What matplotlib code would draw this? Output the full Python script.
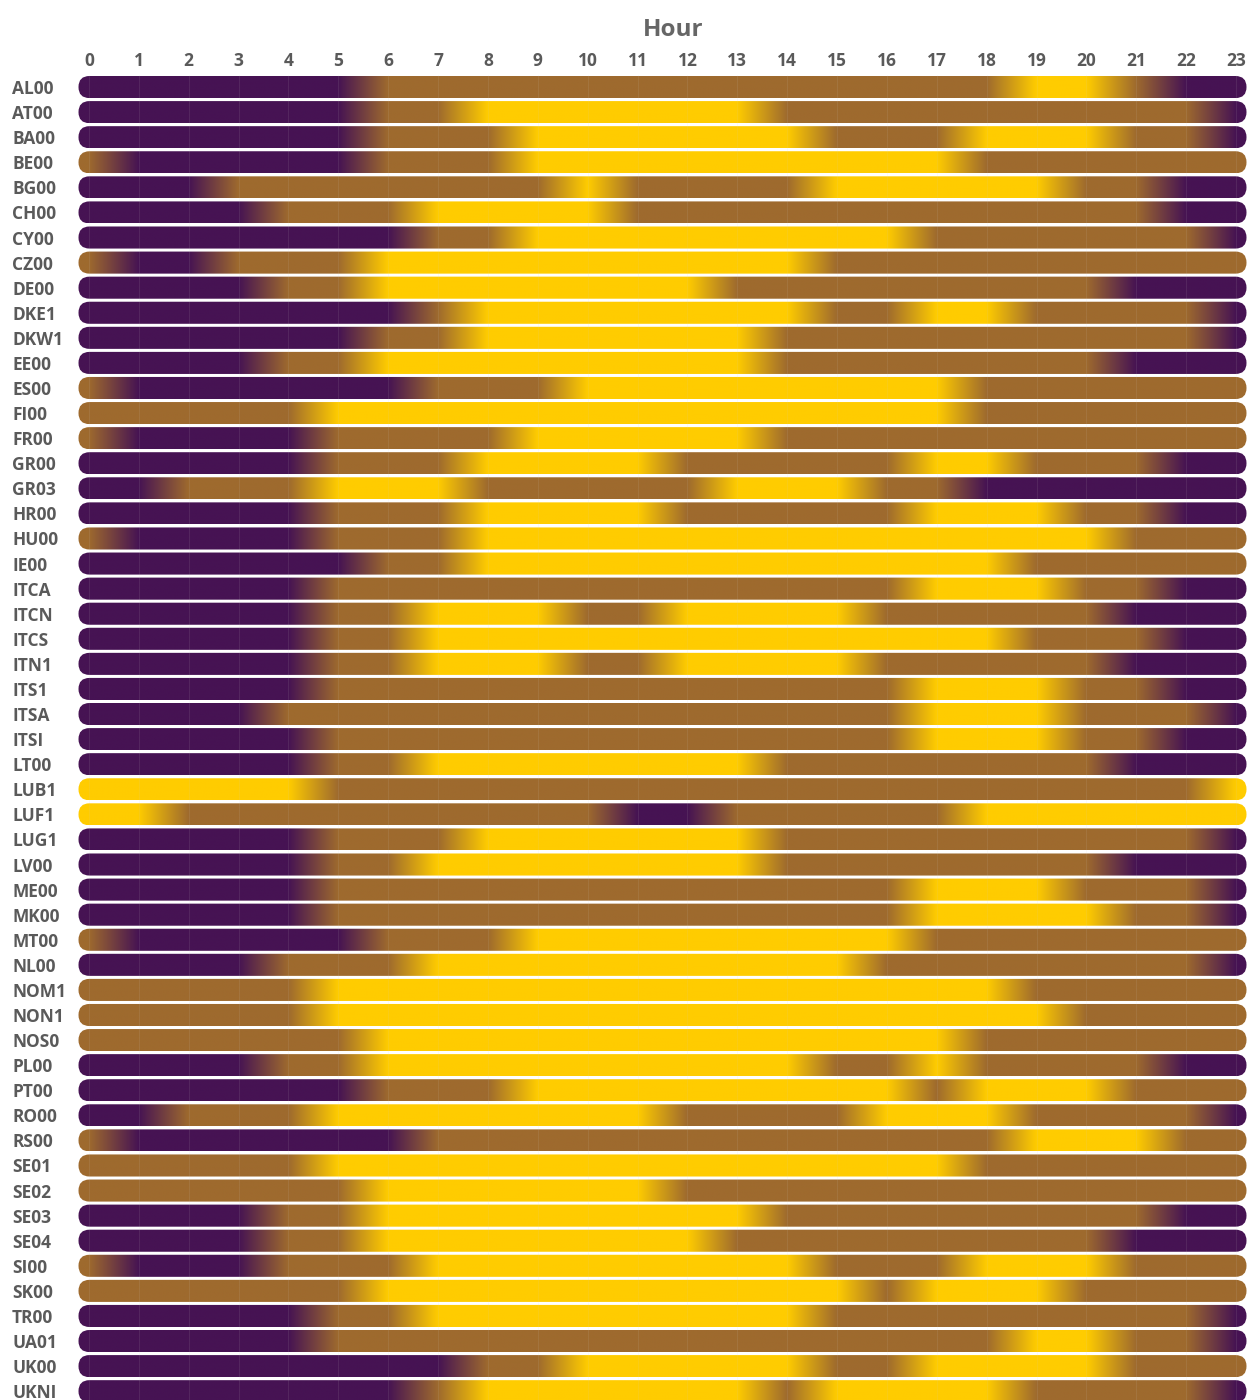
import numpy as np
import matplotlib
matplotlib.use("Agg")
import matplotlib.pyplot as plt
from matplotlib.patches import FancyBboxPatch
from matplotlib.colors import to_rgb

plt.rcParams["font.family"] = ["Open Sans", "DejaVu Sans"]

hours = list(range(24))

zones = ["AL00", "AT00", "BA00", "BE00", "BG00", "CH00", "CY00", "CZ00", "DE00",
         "DKE1", "DKW1", "EE00", "ES00", "FI00", "FR00", "GR00", "GR03", "HR00",
         "HU00", "IE00", "ITCA", "ITCN", "ITCS", "ITN1", "ITS1", "ITSA", "ITSI",
         "LT00", "LUB1", "LUF1", "LUG1", "LV00", "ME00", "MK00", "MT00", "NL00",
         "NOM1", "NON1", "NOS0", "PL00", "PT00", "RO00", "RS00", "SE01", "SE02",
         "SE03", "SE04", "SI00", "SK00", "TR00", "UA01", "UK00", "UKNI"]

# state per hour 0..23 (P = low, B = mid, Y = high); spaces only for reading
states = [
    "PPPPPP BBBBBBBBBBBBB YY B PP",      # AL00
    "PPPPPP BB YYYYYY BBBBBBBBB P",      # AT00
    "PPPPPP BBB YYYYYY BBB YYY BB P",    # BA00
    "B PPPPP BBB YYYYYYYYY BBBBBB",      # BE00
    "PPP BBBBBBB Y BBBB YYYYY BB PP",    # BG00
    "PPPP BBB YYYY BBBBBBBBBBB PP",      # CH00
    "PPPPPPP BB YYYYYYYY BBBBBB P",      # CY00
    "B PP BBB YYYYYYYYY BBBBBBBBB",      # CZ00
    "PPPP BB YYYYYYY BBBBBBBB PPP",      # DE00
    "PPPPPPP B YYYYYYY BB YY BBBB P",    # DKE1
    "PPPPPP BB YYYYYY BBBBBBBBB P",      # DKW1
    "PPPP BB YYYYYYYY BBBBBBB PPP",      # EE00
    "B PPPPPP BBB YYYYYYYY BBBBBB",      # ES00
    "BBBBB YYYYYYYYYYYYY BBBBBB",        # FI00
    "B PPPP BBBB YYYYY BBBBBBBBBB",      # FR00
    "PPPPP BBB YYYY BBBBB YY BBB PP",    # GR00
    "PP BBB YYY BBBBB YYY BB PPPPPP",    # GR03
    "PPPPP BBB YYYY BBBBB YYY BB PP",    # HR00
    "B PPPP BBB YYYYYYYYYYYYY BBB",      # HU00
    "PPPPPP BB YYYYYYYYYYY BBBBB",       # IE00
    "PPPPP BBBBBBBBBBBB YYY BB PP",      # ITCA
    "PPPPP BB YYY BB YYYY BBBBB PPP",    # ITCN
    "PPPPP BB YYYYYYYYYYYY BBB PP",      # ITCS
    "PPPPP BB YYY BB YYYY BBBBB PPP",    # ITN1
    "PPPPP BBBBBBBBBBBB YYY BB PP",      # ITS1
    "PPPP BBBBBBBBBBBBB YYY BBB P",      # ITSA
    "PPPPP BBBBBBBBBBBB YYY BB PP",      # ITSI
    "PPPPP BB YYYYYYY BBBBBBB PPP",      # LT00
    "YYYYY BBBBBBBBBBBBBBBBBB Y",        # LUB1
    "YY BBBBBBBBB PP BBBBB YYYYYY",      # LUF1
    "PPPPP BBB YYYYYY BBBBBBBBB P",      # LUG1
    "PPPPP BB YYYYYYY BBBBBBB PPP",      # LV00
    "PPPPP BBBBBBBBBBBB YYY BBB P",      # ME00
    "PPPPP BBBBBBBBBBBB YYYY BB P",      # MK00
    "B PPPPP BBB YYYYYYYY BBBBBBB",      # MT00
    "PPPP BBB YYYYYYYYY BBBBBBB P",      # NL00
    "BBBBB YYYYYYYYYYYYYY BBBBB",        # NOM1
    "BBBBB YYYYYYYYYYYYYYY BBBB",        # NON1
    "BBBBBB YYYYYYYYYYYY BBBBBB",        # NOS0
    "PPPP BB YYYYYYYYY BB Y BBBB PP",    # PL00
    "PPPPPP BBB YYYYYYYY B YYY BBB",     # PT00
    "PP BBB YYYYYYY BBBB YYY BBBB P",    # RO00
    "B PPPPPP BBBBBBBBBBBB YYY BB",      # RS00
    "BBBBB YYYYYYYYYYYYY BBBBBB",        # SE01
    "BBBBBB YYYYYY BBBBBBBBBBBB",        # SE02
    "PPPP BB YYYYYYYY BBBBBBBB PP",      # SE03
    "PPPP BB YYYYYYY BBBBBBBB PPP",      # SE04
    "B PPP BBB YYYYYYYY BBB YYY BBB",    # SI00
    "BBBBBB YYYYYYYYYY B YYY BBBB",      # SK00
    "PPPPP BB YYYYYYYY BBBBBBBB P",      # TR00
    "PPPPP BBBBBBBBBBBBBB YY BB P",      # UA01
    "PPPPPPPP BB YYYYY BB YYYY BBB",     # UK00
    "PPPPPPP B YYYYYY B YYYY BBBB P",    # UKNI
]
states = [s.replace(" ", "") for s in states]
for z, s in zip(zones, states):
    if len(s) != 24:
        print("BAD LENGTH", z, len(s))

palette = {"P": "#461353", "B": "#9e6a2e", "Y": "#ffcc00"}

W, H = 1248, 1400
fig = plt.figure(figsize=(W / 100, H / 100), dpi=100)
x_lo, x_hi = -0.22, 23.24
y_top_px, row_px = 74.5, 25.08
n = len(zones)
ax = fig.add_axes([78 / W, 1 - (y_top_px + n * row_px) / H, 1170 / W, n * row_px / H])
ax.set_xlim(x_lo, x_hi)
ax.set_ylim(n - 0.5, -0.5)

px_x = 1170 / (x_hi - x_lo)
aspect = px_x / row_px
half = 0.44
bx0, bx1 = -0.21, 23.21
xs = np.linspace(bx0, bx1, 1200)

for i, s in enumerate(states):
    rgb = np.array([to_rgb(palette[c]) for c in s])
    row = np.stack([np.interp(xs, hours, rgb[:, k]) for k in range(3)], axis=-1)
    im = ax.imshow(row[None, :, :], extent=(bx0, bx1, i + half, i - half),
                   aspect="auto", interpolation="bilinear", zorder=2)
    clip = FancyBboxPatch((bx0, i - half), bx1 - bx0, 2 * half,
                          boxstyle="round,pad=0,rounding_size=0.22",
                          mutation_aspect=aspect, transform=ax.transData,
                          facecolor="none", edgecolor="none")
    im.set_clip_path(clip)

ax.vlines(hours, -0.5, n - 0.5, color="#d0d0d0", lw=0.6, alpha=0.12, zorder=3)

ax.set_xticks(hours)
ax.set_xticklabels([str(h) for h in hours])
ax.xaxis.tick_top()
ax.set_yticks(range(n))
ax.set_yticklabels(zones)
for lab in ax.get_yticklabels():
    lab.set_ha("left")
ax.tick_params(axis="both", length=0, labelsize=12.5, labelcolor="#5a5a5a")
ax.tick_params(axis="x", pad=3)
ax.tick_params(axis="y", pad=47.5)
for lab in ax.get_xticklabels() + ax.get_yticklabels():
    lab.set_fontweight("bold")
for sp in ax.spines.values():
    sp.set_visible(False)

fig.text(673 / W, 1 - 30 / H, "Hour", ha="center", va="center",
         fontsize=17.5, color="#666666", fontweight="bold")

fig.savefig("out.png", dpi=100, facecolor="white")
